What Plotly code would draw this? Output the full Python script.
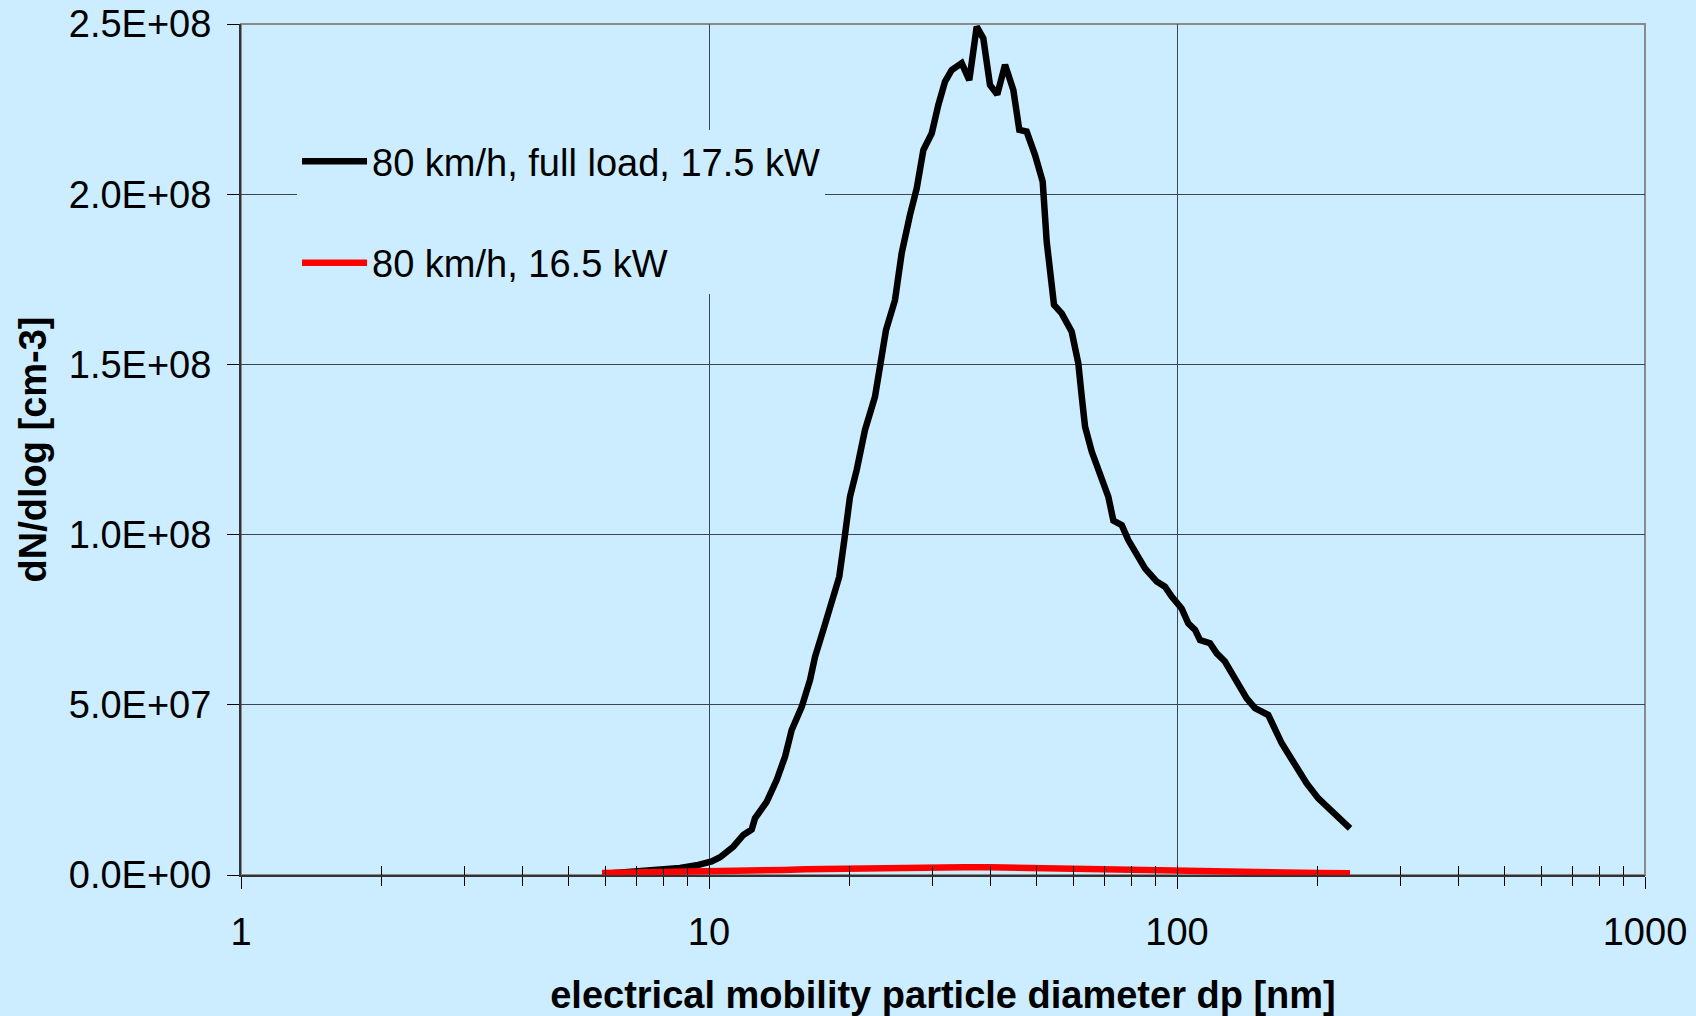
import plotly.graph_objects as go

# ---- data ----
full_load_dp = [5.91, 6.78, 7.48, 8.12, 8.67, 9.41, 10.13, 10.56, 11.27, 11.84, 12.34, 12.54,
                13.28, 13.95, 14.54, 15.02, 15.78, 16.44, 16.85, 17.55, 18.29, 18.98, 19.46,
                20.01, 20.68, 21.54, 22.63, 23.20, 23.89, 24.97, 25.80, 26.88, 27.79, 28.71,
                29.92, 30.90, 31.94, 33.01, 34.67, 35.99, 37.33, 38.56, 39.85, 41.30, 42.91,
                44.70, 46.03, 47.73, 49.74, 51.64, 52.68, 54.60, 56.70, 59.57, 61.54, 62.59,
                63.61, 65.74, 69.06, 71.34, 73.12, 76.2, 78.7, 82.68, 85.44, 90.51, 94.27,
                97.43, 102.3, 105.7, 109.3, 112.0, 117.6, 121.6, 126.6, 134.2, 140.9, 146.8,
                156.7, 167.4, 175.9, 189.3, 200.4, 215.8, 234.3]
full_load_dn = [0.3e6, 0.9e6, 1.26e6, 1.85e6, 2.06e6, 2.85e6, 4.02e6, 5.2e6, 8.31e6, 11.75e6,
                13.4e6, 16.66e6, 21.5e6, 27.9e6, 34.8e6, 42.6e6, 49.4e6, 57.3e6, 64.1e6,
                72.0e6, 79.8e6, 87.6e6, 98.4e6, 111.1e6, 119.0e6, 130.7e6, 140.5e6, 150.3e6,
                160.1e6, 168.9e6, 182.6e6, 193.9e6, 201.7e6, 213.0e6, 217.9e6, 226.2e6,
                233.1e6, 236.5e6, 238.5e6, 233.5e6, 249.2e6, 245.8e6, 232.1e6, 229.3e6,
                238.0e6, 230.6e6, 218.9e6, 218.4e6, 211.5e6, 203.7e6, 186.0e6, 167.5e6,
                165.0e6, 159.6e6, 150.3e6, 140.5e6, 131.7e6, 124.4e6, 117.0e6, 111.1e6,
                104.1e6, 102.8e6, 98.4e6, 93.0e6, 90.1e6, 86.2e6, 84.7e6, 81.8e6, 78.3e6,
                73.9e6, 72.0e6, 69.0e6, 68.1e6, 65.1e6, 62.7e6, 56.8e6, 51.9e6, 49.0e6,
                47.0e6, 38.7e6, 33.8e6, 26.9e6, 22.5e6, 18.6e6, 13.7e6]

part_load_dp = [5.91, 7.0, 8.5, 10.0, 11.0, 12.0, 13.2, 14.5, 16.0, 18.0, 20.0, 23.0, 26.0,
                30.0, 35.0, 40.0, 45.0, 50.0, 60.0, 70.0, 80.0, 100.0, 120.0, 150.0, 200.0,
                234.3]
part_load_dn = [0.6e6, 0.7e6, 0.85e6, 0.97e6, 1.05e6, 1.2e6, 1.3e6, 1.5e6, 1.67e6, 1.8e6,
                2.0e6, 2.2e6, 2.3e6, 2.3e6, 2.3e6, 2.25e6, 2.1e6, 2.0e6, 1.8e6, 1.55e6,
                1.35e6, 1.1e6, 0.95e6, 0.75e6, 0.6e6, 0.5e6]

series_names = ["80 km/h, full load, 17.5 kW", "80 km/h, 16.5 kW"]
x_tick_vals = [1, 10, 100, 1000]
x_tick_text = ["1", "10", "100", "1000"]
y_tick_vals = [0, 5e7, 1e8, 1.5e8, 2e8, 2.5e8]
y_tick_text = [f"{v:.1E}" for v in y_tick_vals]

x_minor = [m * 10 ** k for k in range(3) for m in range(2, 10)]

BG = "#CCECFF"
FONT = "Liberation Sans, Arial, sans-serif"
FS = 38

fig = go.Figure()
fig.add_trace(go.Scatter(x=full_load_dp, y=full_load_dn, mode="lines", name=series_names[0],
                         line=dict(color="black", width=6.5), legendgroup="a"))
fig.add_trace(go.Scatter(x=part_load_dp, y=part_load_dn, mode="lines", name=series_names[1],
                         line=dict(color="#FF0000", width=6.5), legendgroup="b"))

fig.update_layout(
    width=1696, height=1016,
    paper_bgcolor=BG, plot_bgcolor=BG,
    margin=dict(l=241, r=51, t=24, b=141, autoexpand=False),
    font=dict(family=FONT, size=FS, color="black"),
    showlegend=True,
    legend=dict(x=0.0399, y=0.8754, xanchor="left", yanchor="top",
                bgcolor=BG, borderwidth=0, font=dict(size=FS, family=FONT),
                itemwidth=65, tracegroupgap=49, traceorder="grouped"),
    xaxis=dict(
        type="log", range=[0, 3], tickmode="array", tickvals=x_tick_vals, ticktext=x_tick_text,
        ticks="outside", ticklen=12, tickwidth=1, tickcolor="black",
        minor=dict(tickmode="array", tickvals=x_minor, ticks="outside", ticklen=9,
                   tickwidth=1, tickcolor="black", showgrid=False),
        showgrid=True, gridcolor="#3c4650", gridwidth=1,
        showline=True, linecolor="#333333", linewidth=2, zeroline=False,
        ticklabelstandoff=10,
        title=dict(text="electrical mobility particle diameter dp [nm]",
                   font=dict(size=FS, family=FONT, weight="bold"), standoff=38),
    ),
    xaxis2=dict(
        type="log", range=[0, 3], overlaying="x", anchor="y", side="bottom",
        tickmode="array", tickvals=x_tick_vals, ticks="inside", ticklen=9, tickwidth=1,
        tickcolor="black", showticklabels=False, showgrid=False, showline=False, zeroline=False,
        minor=dict(tickmode="array", tickvals=x_minor, ticks="inside", ticklen=9,
                   tickwidth=1, tickcolor="black", showgrid=False),
    ),
    yaxis=dict(
        range=[0, 2.5e8], tickmode="array", tickvals=y_tick_vals, ticktext=y_tick_text,
        ticks="outside", ticklen=12, tickwidth=1, tickcolor="black",
        showgrid=True, gridcolor="#3c4650", gridwidth=1,
        showline=True, linecolor="#333333", linewidth=2, zeroline=False,
        ticklabelstandoff=8,
        title=dict(text="dN/dlog [cm-3]",
                   font=dict(size=FS, family=FONT, weight="bold"), standoff=10),
    ),
    shapes=[dict(type="rect", xref="paper", yref="paper", x0=0, x1=1, y0=0, y1=1,
                 line=dict(color="#8a8a8a", width=2), layer="below")],
)

# dummy trace to activate the overlay axis for inside ticks
fig.add_trace(go.Scatter(x=[1, 1000], y=[None, None], xaxis="x2", showlegend=False,
                         hoverinfo="skip", mode="lines"))

fig.write_html("out.html", config={"displayModeBar": False})

# remove the default page margin so the figure fills the window exactly
with open("out.html", "r", encoding="utf-8") as f:
    html = f.read()
html = html.replace("<head>", "<head><style>html,body{margin:0;padding:0;overflow:hidden;}</style>", 1)
with open("out.html", "w", encoding="utf-8") as f:
    f.write(html)
